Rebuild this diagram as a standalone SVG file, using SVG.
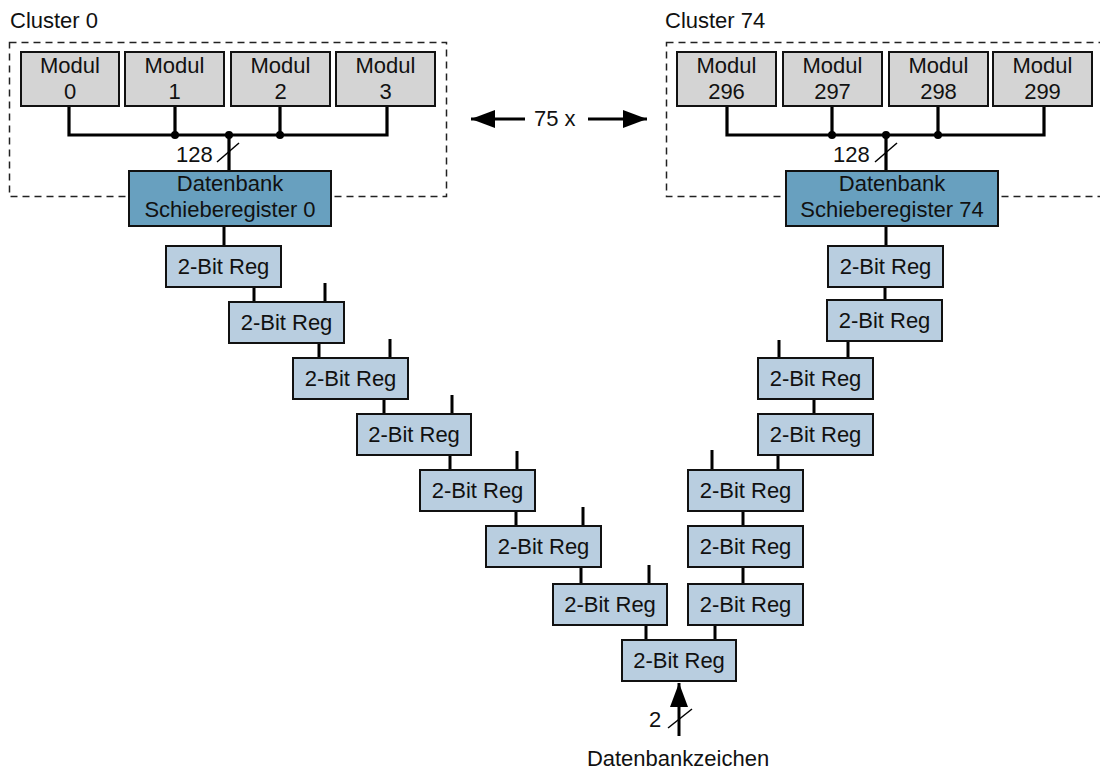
<svg xmlns="http://www.w3.org/2000/svg" width="1100" height="773" viewBox="0 0 1100 773">
  <style>
    text { font-family: "Liberation Sans", Arial, sans-serif; font-size: 22px; fill: #111; }
    .mid { text-anchor: middle; }
    .cluster { fill: none; stroke: #222; stroke-width: 1.5; stroke-dasharray: 7 5; }
    .modul { fill: #d4d4d4; stroke: #111; stroke-width: 2; }
    .db { fill: #68a0bf; stroke: #111; stroke-width: 2; }
    .reg { fill: #b9cee0; stroke: #111; stroke-width: 2; }
    .bus { fill: none; stroke: #000; stroke-width: 3.2; }
    .wire { fill: none; stroke: #000; stroke-width: 3; }
    .thin { fill: none; stroke: #000; stroke-width: 1.5; }
    .dot { fill: #000; }
    .head { fill: #000; }
  </style>
  <defs>
    <marker id="arrow" viewBox="0 0 24 18" refX="24" refY="9" markerWidth="24" markerHeight="18" markerUnits="userSpaceOnUse" orient="auto">
      <path class="head" d="M0,0 L24,9 L0,18 Z"/>
    </marker>
  </defs>

  <rect width="1100" height="773" fill="#fff"/>

  <!-- Cluster frames -->
  <g id="cluster0">
    <rect class="cluster" x="9.5" y="42.5" width="437" height="154"/>
    <text x="10" y="28">Cluster 0</text>
  </g>
  <g id="cluster74">
    <rect class="cluster" x="666.5" y="42.5" width="460" height="154"/>
    <text x="665" y="28">Cluster 74</text>
  </g>

  <!-- Connectors -->
  <g id="connectors">
    <!-- cluster 0 bus -->
    <path class="bus" d="M69,106 V135 H387 V106 M175,106 V135 M280,106 V135 M229,135 V171"/>
    <circle class="dot" cx="175" cy="135" r="4"/>
    <circle class="dot" cx="229" cy="135" r="4"/>
    <circle class="dot" cx="280" cy="135" r="4"/>
    <line class="thin" x1="217" y1="162" x2="239" y2="143"/>
    <text x="176" y="162">128</text>

    <!-- cluster 74 bus -->
    <path class="bus" d="M727,106 V135 H1044 V106 M832,106 V135 M938,106 V135 M886,135 V171"/>
    <circle class="dot" cx="832" cy="135" r="4"/>
    <circle class="dot" cx="886" cy="135" r="4"/>
    <circle class="dot" cx="938" cy="135" r="4"/>
    <line class="thin" x1="875" y1="162" x2="897" y2="143"/>
    <text x="833" y="162">128</text>

    <!-- left register chain -->
    <path class="wire" d="M224,226 V246 M254,287 V302 M319,343 V358 M384,399 V414 M450,455 V470 M516,511 V526 M581,567 V584 M646,625 V640"/>
    <path class="wire" d="M325,283 V302 M390,339 V358 M452,395 V414 M517,451 V470 M583,507 V526 M649,565 V584"/>

    <!-- right register chain -->
    <path class="wire" d="M886,226 V246 M885,287 V300 M848,341 V358 M814,399 V414 M778,455 V470 M743,511 V526 M743,567 V584 M715,625 V640"/>
    <path class="wire" d="M779,340 V358 M712,450 V470"/>

    <!-- repetition arrows -->
    <line class="wire" x1="525" y1="119" x2="471" y2="119" marker-end="url(#arrow)"/>
    <line class="wire" x1="588" y1="119" x2="647" y2="119" marker-end="url(#arrow)"/>
    <text x="534" y="126">75 x</text>

    <!-- data input -->
    <line class="wire" x1="679" y1="736" x2="679" y2="683" marker-end="url(#arrow)"/>
    <line class="thin" x1="668" y1="728" x2="692" y2="709"/>
    <text x="649" y="727">2</text>
    <text class="mid" x="678" y="766">Datenbankzeichen</text>
  </g>

  <!-- Cluster 0 modules -->
  <g id="modul0"><rect class="modul" x="21" y="52" width="98" height="54"/><text class="mid" x="70" y="73">Modul</text><text class="mid" x="70" y="99">0</text></g>
  <g id="modul1"><rect class="modul" x="125" y="52" width="99" height="54"/><text class="mid" x="174.5" y="73">Modul</text><text class="mid" x="174.5" y="99">1</text></g>
  <g id="modul2"><rect class="modul" x="231" y="52" width="99" height="54"/><text class="mid" x="280.5" y="73">Modul</text><text class="mid" x="280.5" y="99">2</text></g>
  <g id="modul3"><rect class="modul" x="336" y="52" width="99" height="54"/><text class="mid" x="385.5" y="73">Modul</text><text class="mid" x="385.5" y="99">3</text></g>

  <!-- Cluster 74 modules -->
  <g id="modul296"><rect class="modul" x="677" y="52" width="99" height="54"/><text class="mid" x="726.5" y="73">Modul</text><text class="mid" x="726.5" y="99">296</text></g>
  <g id="modul297"><rect class="modul" x="783" y="52" width="99" height="54"/><text class="mid" x="832.5" y="73">Modul</text><text class="mid" x="832.5" y="99">297</text></g>
  <g id="modul298"><rect class="modul" x="889" y="52" width="99" height="54"/><text class="mid" x="938.5" y="73">Modul</text><text class="mid" x="938.5" y="99">298</text></g>
  <g id="modul299"><rect class="modul" x="993" y="52" width="99" height="54"/><text class="mid" x="1042.5" y="73">Modul</text><text class="mid" x="1042.5" y="99">299</text></g>

  <!-- Shift registers -->
  <g id="db0"><rect class="db" x="129" y="171" width="202" height="55"/><text class="mid" x="230" y="191">Datenbank</text><text class="mid" x="230" y="217">Schieberegister 0</text></g>
  <g id="db74"><rect class="db" x="786" y="171" width="212" height="55"/><text class="mid" x="892" y="191">Datenbank</text><text class="mid" x="892" y="217">Schieberegister 74</text></g>

  <!-- Left 2-bit registers -->
  <g id="regL1"><rect class="reg" x="166" y="246" width="115" height="41"/><text class="mid" x="223.5" y="274">2-Bit Reg</text></g>
  <g id="regL2"><rect class="reg" x="229" y="302" width="115" height="41"/><text class="mid" x="286.5" y="330">2-Bit Reg</text></g>
  <g id="regL3"><rect class="reg" x="293" y="358" width="115" height="41"/><text class="mid" x="350.5" y="386">2-Bit Reg</text></g>
  <g id="regL4"><rect class="reg" x="357" y="414" width="114" height="41"/><text class="mid" x="414" y="442">2-Bit Reg</text></g>
  <g id="regL5"><rect class="reg" x="420" y="470" width="115" height="41"/><text class="mid" x="477.5" y="498">2-Bit Reg</text></g>
  <g id="regL6"><rect class="reg" x="486" y="526" width="115" height="41"/><text class="mid" x="543.5" y="554">2-Bit Reg</text></g>
  <g id="regL7"><rect class="reg" x="553" y="584" width="114" height="41"/><text class="mid" x="610" y="612">2-Bit Reg</text></g>

  <!-- Right 2-bit registers -->
  <g id="regR1"><rect class="reg" x="828" y="246" width="115" height="41"/><text class="mid" x="885.5" y="274">2-Bit Reg</text></g>
  <g id="regR2"><rect class="reg" x="827" y="300" width="115" height="41"/><text class="mid" x="884.5" y="328">2-Bit Reg</text></g>
  <g id="regR3"><rect class="reg" x="758" y="358" width="115" height="41"/><text class="mid" x="815.5" y="386">2-Bit Reg</text></g>
  <g id="regR4"><rect class="reg" x="758" y="414" width="115" height="41"/><text class="mid" x="815.5" y="442">2-Bit Reg</text></g>
  <g id="regR5"><rect class="reg" x="688" y="470" width="115" height="41"/><text class="mid" x="745.5" y="498">2-Bit Reg</text></g>
  <g id="regR6"><rect class="reg" x="688" y="526" width="115" height="41"/><text class="mid" x="745.5" y="554">2-Bit Reg</text></g>
  <g id="regR7"><rect class="reg" x="688" y="584" width="115" height="41"/><text class="mid" x="745.5" y="612">2-Bit Reg</text></g>

  <!-- Final register -->
  <g id="regOut"><rect class="reg" x="622" y="640" width="114" height="41"/><text class="mid" x="679" y="668">2-Bit Reg</text></g>
</svg>
